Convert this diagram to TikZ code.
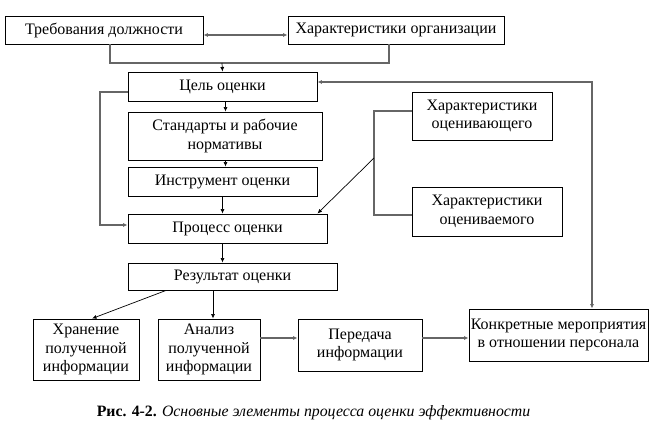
\documentclass[tikz,border=0pt]{standalone}
\usepackage{fontspec}
\setmainfont{Liberation Serif}
\usetikzlibrary{arrows.meta}

\tikzset{
  box/.style={draw,line width=0.9pt,align=center,inner sep=1pt,font=\fontsize{16}{18.5}\selectfont},
  link/.style={draw=black!60,line width=1.6pt},
  arr/.style={-{Latex[length=4.5pt,width=4pt]},line width=0.7pt},
  garr/.style={link,-{Latex[length=4.5pt,width=4pt]}}
}

\begin{document}
\begin{tikzpicture}[x=1pt,y=-1pt]
\useasboundingbox (0,0) rectangle (664,438);
\node[box,minimum width=198pt,minimum height=28pt] (treb) at (104,30) {Требования должности};
\node[box,minimum width=216pt,minimum height=28pt] (org) at (396,30) {Характеристики организации};
\node[box,minimum width=189pt,minimum height=29pt] (cel) at (222.5,86.5) {Цель оценки};
\node[box,minimum width=194pt,minimum height=48pt] (stand) at (225,136) {Стандарты и рабочие\\нормативы};
\node[box,minimum width=189pt,minimum height=29pt] (instr) at (222.5,181.5) {Инструмент оценки};
\node[box,minimum width=199pt,minimum height=29pt] (proc) at (227.5,228.5) {Процесс оценки};
\node[box,minimum width=140pt,minimum height=48pt] (ocv) at (482,116) {Характеристики\\оценивающего};
\node[box,minimum width=150pt,minimum height=49pt] (ocm) at (487,211.5) {Характеристики\\оцениваемого};
\node[box,minimum width=209pt,minimum height=27pt] (rez) at (232.5,276.5) {Результат оценки};
\node[box,minimum width=106pt,minimum height=61pt] (hran) at (86,349.5) {Хранение\\полученной\\информации};
\node[box,minimum width=102pt,minimum height=61pt] (anal) at (209,349.5) {Анализ\\полученной\\информации};
\node[box,minimum width=124pt,minimum height=52pt] (per) at (360,345) {Передача\\информации};
\node[box,minimum width=179pt,minimum height=52pt] (konk) at (558.5,335) {Конкретные мероприятия\\в отношении персонала};
\node[font=\fontsize{15.8}{18}\selectfont] (cap) at (313.5,413) {\textbf{Рис. 4-2.} \textit{Основные элементы процесса оценки эффективности}};

\coordinate (j1) at (222,63);
\coordinate (fb) at (592,82);
\coordinate (lp) at (100,92);
\coordinate (br) at (374,158);

\draw[link,{Latex[length=4.5pt,width=4pt]}-{Latex[length=4.5pt,width=4pt]}] ([yshift=-5pt]treb.east) -- ([yshift=-5pt]org.west);
\draw[link] ([xshift=6pt]treb.south) |- (j1) -| ([xshift=-7pt]org.south);
\draw[arr] (j1) -- (cel.north);
\draw[link,{Latex[length=4.5pt,width=4pt]}-{Latex[length=4.5pt,width=4pt]}] ([yshift=4.5pt]cel.east) -- (fb) -- (fb |- konk.north);
\draw[link,-{Latex[length=4.5pt,width=4pt]}] ([yshift=-5.5pt]cel.west) -- (lp) |- ([yshift=3.5pt]proc.west);
\draw[arr] ([xshift=3pt]cel.south) -- ([xshift=3pt]cel.south |- stand.north);
\draw[arr] ([xshift=3pt]instr.north |- stand.south) -- ([xshift=3pt]instr.north);
\draw[arr] (instr.south) -- (instr.south |- proc.north);
\draw[link] ([yshift=5pt]ocv.west) -| (br) |- ([yshift=-3.5pt]ocm.west);
\draw[arr] (br) -- ([xshift=-10pt]proc.north east);
\draw[arr] ([xshift=-5pt]proc.south) -- ([xshift=-5pt]proc.south |- rez.north);
\draw[arr] ([xshift=-66.5pt]rez.south) -- ([xshift=6pt]hran.north);
\draw[arr] ([xshift=4pt]anal.north |- rez.south) -- ([xshift=4pt]anal.north);
\draw[garr] ([yshift=11.5pt]anal.east) -- ([yshift=7pt]per.west);
\draw[garr] ([yshift=7pt]per.east) -- ([yshift=-3pt]konk.west);
\end{tikzpicture}
\end{document}
